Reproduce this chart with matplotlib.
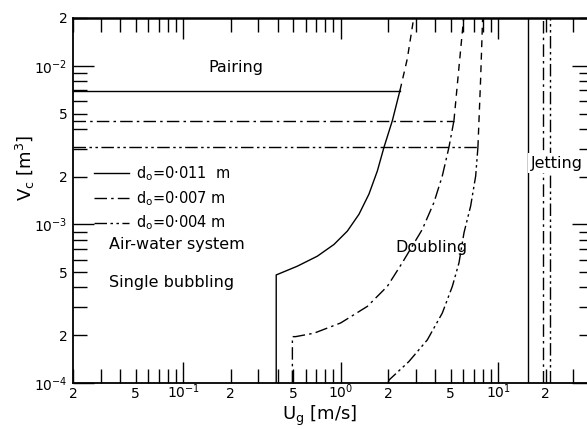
import numpy as np
import matplotlib.pyplot as plt
from matplotlib.lines import Line2D

# single bubbling / doubling boundary for each orifice
u_011 = [0.39, 0.39, 0.396, 0.531, 0.711, 0.907, 1.103, 1.307, 1.512, 1.71, 1.884, 2.13, 2.38]
v_011 = [1.0e-4, 4.8e-4, 4.83e-4, 5.45e-4, 6.30e-4, 7.47e-4, 9.07e-4, 1.157e-3,
         1.55e-3, 2.17e-3, 3.06e-3, 4.51e-3, 6.98e-3]
u_007 = [0.494, 0.494, 0.518, 0.677, 1.0, 1.477, 1.98, 2.46, 3.30, 3.91, 4.42, 4.87, 5.24]
v_007 = [1.0e-4, 1.96e-4, 1.96e-4, 2.06e-4, 2.39e-4, 3.04e-4, 4.07e-4, 5.72e-4,
         9.30e-4, 1.372e-3, 2.02e-3, 3.06e-3, 4.51e-3]
u_004 = [2.0, 2.03, 2.71, 3.55, 4.42, 5.12, 5.64, 6.07, 6.69, 7.20, 7.44]
v_004 = [1.0e-4, 1.045e-4, 1.364e-4, 1.87e-4, 2.76e-4, 4.07e-4, 5.72e-4, 8.86e-4,
         1.306e-3, 2.02e-3, 3.07e-3]

# dashed continuation above the pairing level
u_011_ext = [2.38, 2.65, 2.91]
v_011_ext = [6.98e-3, 1.107e-2, 2.0e-2]
u_007_ext = [5.24, 5.65, 6.04]
v_007_ext = [4.51e-3, 1.0e-2, 2.0e-2]
u_004_ext = [7.44, 7.74, 7.97]
v_004_ext = [3.07e-3, 8.28e-3, 2.0e-2]

# pairing levels and jetting limits
pair_v = [6.98e-3, 4.51e-3, 3.07e-3]
pair_u_end = [2.38, 5.24, 7.44]
jet_u = [15.4, 19.2, 21.2]
labels = ['d$_\\mathrm{o}$=0·011  m', 'd$_\\mathrm{o}$=0·007 m', 'd$_\\mathrm{o}$=0·004 m']

xmaj = [0.1, 1, 10]
xmaj_lab = ['10$^{-1}$', '10$^{0}$', '10$^{1}$']
xmin = [0.02, 0.03, 0.04, 0.05, 0.06, 0.07, 0.08, 0.09,
        0.2, 0.3, 0.4, 0.5, 0.6, 0.7, 0.8, 0.9,
        2, 3, 4, 5, 6, 7, 8, 9, 20, 30, 40]
ymaj = [1e-4, 1e-3, 1e-2]
ymaj_lab = ['10$^{-4}$', '10$^{-3}$', '10$^{-2}$']
ymin = [2e-4, 3e-4, 4e-4, 5e-4, 6e-4, 7e-4, 8e-4, 9e-4,
        2e-3, 3e-3, 4e-3, 5e-3, 6e-3, 7e-3, 8e-3, 9e-3, 2e-2]


def minor_label(t):
    m = int(round(t / 10 ** np.floor(np.log10(t) + 1e-9)))
    return str(m) if m in (2, 5) else ''


styles = ['-', (0, (9, 3, 1.8, 3)), (0, (9, 2.5, 1.8, 2.5, 1.8, 2.5))]
ext_style = (0, (5, 4))

plt.rcParams['font.family'] = 'DejaVu Sans'
plt.rcParams['mathtext.fontset'] = 'dejavusans'

fig = plt.figure(figsize=(5.87, 4.29), dpi=100)
ax = fig.add_axes([73 / 587, 46 / 429, 520 / 587, 365 / 429])
ax.set_xscale('log')
ax.set_yscale('log')
ax.set_xlim(0.02, 40)
ax.set_ylim(1e-4, 2e-2)

lw = 1.0
curves = [(u_011, v_011), (u_007, v_007), (u_004, v_004)]
exts = [(u_011_ext, v_011_ext), (u_007_ext, v_007_ext), (u_004_ext, v_004_ext)]
for i in range(3):
    ax.plot(curves[i][0], curves[i][1], color='black', lw=lw, linestyle=styles[i])
    ax.plot(exts[i][0], exts[i][1], color='black', lw=lw, linestyle=ext_style)
    ax.plot([0.02, pair_u_end[i]], [pair_v[i], pair_v[i]], color='black', lw=lw,
            linestyle=styles[i])
    ax.axvline(jet_u[i], color='black', lw=lw, linestyle=styles[i])

# ticks, all pointing inwards
ax.tick_params(which='both', direction='in', top=True, right=True, width=1,
               labelsize=10)
ax.tick_params(which='major', length=15)
ax.tick_params(which='minor', length=10)
ax.tick_params(axis='x', which='both', pad=11)
ax.tick_params(axis='y', which='both', pad=4)
ax.set_xticks(xmaj)
ax.set_xticklabels(xmaj_lab)
ax.set_xticks(xmin, minor=True)
ax.set_xticklabels([minor_label(t) for t in xmin], minor=True)
ax.set_yticks(ymaj)
ax.set_yticklabels(ymaj_lab)
ax.set_yticks(ymin, minor=True)
ax.set_yticklabels([minor_label(t) for t in ymin], minor=True)
for lab in ax.get_xticklabels(which='both'):
    lab.set_verticalalignment('baseline')
for s in ax.spines.values():
    s.set_linewidth(1.3)
ax.spines['top'].set_linewidth(1.8)

# region names
tk = dict(fontsize=11.5, color='black')
ax.text(0.145, 9.7e-3, 'Pairing', ha='left', va='center', **tk)
ax.text(2.23, 7.15e-4, 'Doubling', ha='left', va='center', **tk)
ax.text(0.0337, 7.46e-4, 'Air-water system', ha='left', va='center', **tk)
ax.text(0.0337, 4.3e-4, 'Single bubbling', ha='left', va='center', **tk)
ax.text(16.1, 2.43e-3, 'Jetting', ha='left', va='center', zorder=5,
        bbox=dict(facecolor='white', edgecolor='none', pad=2), **tk)

handles = [Line2D([], [], color='black', lw=lw, linestyle=st) for st in styles]
ax.legend(handles, labels, loc='upper left', bbox_to_anchor=(0.04, 0.6),
          frameon=False, fontsize=10.5, handlelength=2.4, handletextpad=0.5,
          borderpad=0, borderaxespad=0, labelspacing=0.42)

fig.text(320 / 587, 1 - 416 / 429, 'U$_\\mathrm{g}$ [m/s]', ha='center', va='center',
         fontsize=13)
fig.text(25 / 587, 1 - 168 / 429, 'V$_\\mathrm{c}$ [m$^3$]', ha='center', va='center',
         rotation=90, fontsize=13)

fig.savefig('out.png', dpi=100)
